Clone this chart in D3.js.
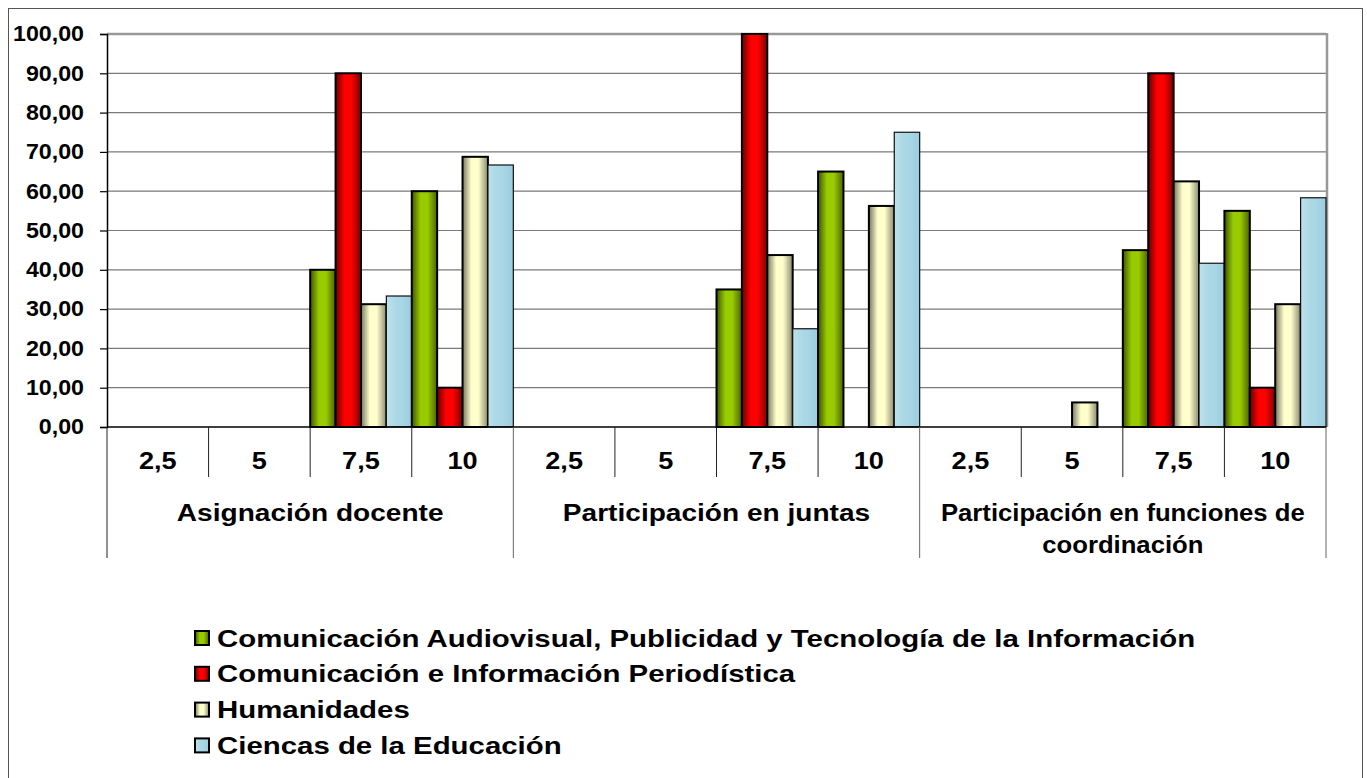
<!DOCTYPE html>
<html>
<head>
<meta charset="utf-8">
<script src="https://cdn.jsdelivr.net/npm/d3@7"></script>
<style>
  body { margin: 0; background: #fff; }
  svg { font-family: "Liberation Sans", Arial, sans-serif; font-weight: bold; }
</style>
</head>
<body>
<svg id="chart" width="1367" height="778"></svg>
<script>
// data
const groups = ["Asignación docente", "Participación en juntas", "Participación en funciones de coordinación"];
const scores = ["2,5", "5", "7,5", "10"];
const seriesNames = [
  "Comunicación Audiovisual, Publicidad y Tecnología de la Información",
  "Comunicación e Información Periodística",
  "Humanidades",
  "Ciencas de la Educación"
];
// values per series: [group][score]
const audiovisual = [[0, 0, 40, 60], [0, 0, 35, 65], [0, 0, 45, 55]];
const periodistica = [[0, 0, 90, 10], [0, 0, 100, 0], [0, 0, 90, 10]];
const humanidades = [[0, 0, 31.25, 68.75], [0, 0, 43.75, 56.25], [0, 6.25, 62.5, 31.25]];
const educacion = [[0, 0, 33.33, 66.67], [0, 0, 25, 75], [0, 0, 41.67, 58.33]];
const yTicks = [0, 10, 20, 30, 40, 50, 60, 70, 80, 90, 100];

const seriesValues = [audiovisual, periodistica, humanidades, educacion];

const svg = d3.select("#chart");
const margin = { left: 107, right: 1326, top: 34, bottom: 427 };

// text in the original is drawn a bit wider than Arial, stretch horizontally
const stretch = { y: 1.08, score: 1.13, group: 1.17, wrapped: 1.07, legend: 1.225 };
const placeText = (sel, x, y, k) => sel.attr("x", 0).attr("y", 0)
  .attr("transform", `translate(${x},${y}) scale(${k},1)`);

// gradients (Excel style shaded bars)
const grads = [
  { id: "g0", stops: ["#3f5500", "#99cc00", "#99cc00", "#4a6400"], stroke: "#000", sw: 2 },
  { id: "g1", stops: ["#660000", "#ff0000", "#ff0000", "#7a0000"], stroke: "#000", sw: 2 },
  { id: "g2", stops: ["#77775e", "#ffffcc", "#ffffcc", "#8a8a70"], stroke: "#000", sw: 2 },
  { id: "g3", stops: ["#bde2ec", "#add8e6", "#a8d6e4", "#98cde0"], stroke: "#111", sw: 1.2 }
];
const defs = svg.append("defs");
grads.forEach(g => {
  const lg = defs.append("linearGradient").attr("id", g.id)
    .attr("x1", "0%").attr("x2", "100%").attr("y1", "0%").attr("y2", "0%");
  [0, 35, 62, 100].forEach((o, i) => lg.append("stop").attr("offset", o + "%").attr("stop-color", g.stops[i]));
});

// outer frame
svg.append("rect").attr("x", 8.5).attr("y", 8.5).attr("width", 1354).attr("height", 800)
  .attr("fill", "none").attr("stroke", "#555").attr("stroke-width", 1);

const x0 = d3.scaleBand().domain(groups).range([margin.left, margin.right]).padding(0);
const x1 = d3.scaleBand().domain(scores).range([0, x0.bandwidth()]).padding(0);
const x2 = d3.scaleBand().domain(d3.range(seriesNames.length)).range([0, x1.bandwidth()]).padding(0);
const y = d3.scaleLinear().domain([0, 100]).range([margin.bottom, margin.top]);

const locale = d3.formatLocale({ decimal: ",", thousands: ".", grouping: [3], currency: ["", "€"] });
const fmt = locale.format(".2f");

// gridlines
svg.append("g").selectAll("line").data(yTicks.filter(t => t > 0)).join("line")
  .attr("x1", margin.left).attr("x2", margin.right)
  .attr("y1", d => y(d)).attr("y2", d => y(d))
  .attr("stroke", d => d === 100 ? "#999" : "#7a7a7a")
  .attr("stroke-width", d => d === 100 ? 2.5 : 1.2);

// plot right edge
svg.append("line").attr("x1", margin.right + 1).attr("x2", margin.right + 1)
  .attr("y1", margin.top - 1).attr("y2", margin.bottom)
  .attr("stroke", "#999").attr("stroke-width", 2.5);

// bars
const flat = [];
groups.forEach((g, gi) => scores.forEach((s, si) => seriesValues.forEach((vals, k) => {
  flat.push({ g, s, k, value: vals[gi][si] });
})));

svg.append("g").selectAll("rect").data(flat.filter(d => d.value > 0)).join("rect")
  .attr("x", d => x0(d.g) + x1(d.s) + x2(d.k))
  .attr("width", x2.bandwidth())
  .attr("y", d => y(d.value))
  .attr("height", d => y(0) - y(d.value))
  .attr("fill", d => `url(#${grads[d.k].id})`)
  .attr("stroke", d => grads[d.k].stroke)
  .attr("stroke-width", d => grads[d.k].sw);

// y axis
const yAxis = d3.axisLeft(y).tickValues(yTicks).tickFormat(fmt).tickSize(7).tickPadding(16);
const ya = svg.append("g").attr("transform", `translate(${margin.left},0)`).call(yAxis);
ya.select(".domain").attr("stroke", "#000").attr("stroke-width", 1.5);
ya.selectAll(".tick line").attr("stroke", "#000").attr("stroke-width", 1.2);
ya.selectAll(".tick text").attr("font-size", 21.5).attr("fill", "#000")
  .attr("font-family", "'Liberation Sans', Arial, sans-serif").attr("font-weight", "bold")
  .attr("transform", `translate(-23,0) scale(${stretch.y},1)`).attr("x", 0);

// x axis line
svg.append("line").attr("x1", margin.left).attr("x2", margin.right)
  .attr("y1", y(0)).attr("y2", y(0)).attr("stroke", "#000").attr("stroke-width", 1.5);

// separators
const sep = svg.append("g");
groups.forEach(g => {
  scores.forEach((s, si) => {
    if (si > 0) {
      const xx = x0(g) + x1(s);
      sep.append("line").attr("x1", xx).attr("x2", xx).attr("y1", y(0)).attr("y2", 477)
        .attr("stroke", "#222").attr("stroke-width", 1);
    }
  });
});
groups.concat([null]).forEach((g, i) => {
  const xx = g ? x0(g) : margin.right;
  sep.append("line").attr("x1", xx).attr("x2", xx).attr("y1", y(0)).attr("y2", 558)
    .attr("stroke", i === 0 ? "#222" : "#666").attr("stroke-width", 1);
});

// sub-category labels
groups.forEach(g => {
  svg.append("g").selectAll("text").data(scores).join("text")
    .attr("text-anchor", "middle")
    .attr("font-size", 24)
    .text(s => s)
    .each(function (s) {
      placeText(d3.select(this), x0(g) + x1(s) + x1.bandwidth() / 2, 469, stretch.score);
    });
});

// group labels, wrapped to band width (wrapped ones drawn narrower, as in the original)
groups.forEach(g => {
  const t = svg.append("text").attr("text-anchor", "middle").attr("font-size", 24);
  const maxW = x0.bandwidth() / stretch.wrapped;
  const words = g.split(" ");
  let line = [], wrapped = false;
  let ts = t.append("tspan").attr("x", 0).attr("dy", 0);
  words.forEach(w => {
    line.push(w);
    ts.text(line.join(" "));
    if (ts.node().getComputedTextLength() > maxW && line.length > 1) {
      line.pop();
      ts.text(line.join(" "));
      line = [w];
      wrapped = true;
      ts = t.append("tspan").attr("x", 0).attr("dy", 32).text(w);
    }
  });
  placeText(t, x0(g) + x0.bandwidth() / 2, 521, wrapped ? stretch.wrapped : stretch.group);
});

// legend
const lg = svg.append("g").attr("transform", "translate(195,638)");
const item = lg.selectAll("g").data(seriesNames).join("g")
  .attr("transform", (d, i) => `translate(0,${i * 35.8})`);
item.append("rect").attr("x", 0).attr("y", -7).attr("width", 14).attr("height", 14)
  .attr("fill", (d, i) => `url(#${grads[i].id})`).attr("stroke", "#000").attr("stroke-width", 2);
item.append("text").attr("dy", "0.36em").attr("font-size", 24).text(d => d)
  .each(function () { placeText(d3.select(this), 22, 0, stretch.legend); });
</script>
</body>
</html>
